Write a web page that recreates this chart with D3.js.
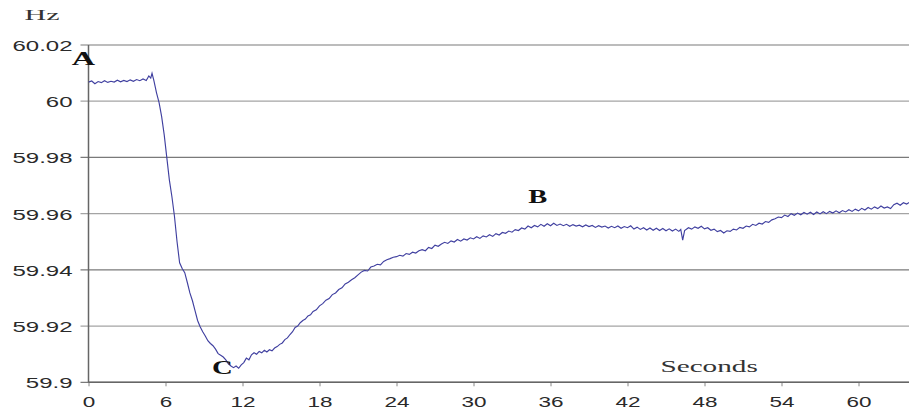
<!DOCTYPE html>
<html>
<head>
<meta charset="utf-8">
<script src="https://cdn.jsdelivr.net/npm/d3@7"></script>
<style>
  body { margin: 0; background: #fff; }
  svg { display: block; }
</style>
</head>
<body>
<svg id="chart"></svg>
<script>
(function () {
  'use strict';

  // Frequency trace [seconds, Hz]
  const trace = [
    [0, 60.0068], [0.25, 60.0072], [0.5, 60.0062], [0.75, 60.0070], [1, 60.0066], [1.25, 60.0073],
    [1.5, 60.0067], [1.75, 60.0071], [2, 60.0068], [2.25, 60.0075], [2.5, 60.0069], [2.75, 60.0074],
    [3, 60.0070], [3.25, 60.0076], [3.5, 60.0071], [3.75, 60.0077], [4, 60.0073], [4.25, 60.0079],
    [4.5, 60.0074], [4.7, 60.0090], [4.85, 60.0082], [4.95, 60.0099], [5.1, 60.0072], [5.3, 60.0030],
    [5.5, 59.9995], [5.7, 59.9945], [5.9, 59.9880], [6.1, 59.9800], [6.3, 59.9720], [6.5, 59.9660],
    [6.7, 59.9590], [6.9, 59.9500], [7.1, 59.9425], [7.3, 59.9405], [7.5, 59.9390], [7.7, 59.9355],
    [7.9, 59.9318], [8.1, 59.9290], [8.3, 59.9255], [8.5, 59.9220], [8.7, 59.9198], [8.9, 59.9180],
    [9.1, 59.9165], [9.3, 59.9148], [9.5, 59.9138], [9.7, 59.9130], [9.9, 59.9118], [10.1, 59.9102],
    [10.3, 59.9096], [10.5, 59.9090], [10.7, 59.9080], [10.9, 59.9066], [11.1, 59.9058], [11.3, 59.9052],
    [11.5, 59.9058], [11.7, 59.9050], [11.9, 59.9062], [12.1, 59.9070], [12.3, 59.9086], [12.5, 59.9080],
    [12.7, 59.9098], [12.9, 59.9105], [13.1, 59.9100], [13.3, 59.9110], [13.5, 59.9105], [13.7, 59.9114],
    [13.9, 59.9108], [14.1, 59.9116], [14.3, 59.9112], [14.5, 59.9122], [14.7, 59.9127], [14.9, 59.9135],
    [15.1, 59.9140], [15.3, 59.9152], [15.5, 59.9158], [15.7, 59.9170], [15.9, 59.9180], [16.1, 59.9195],
    [16.3, 59.9200], [16.5, 59.9212], [16.7, 59.9220], [16.9, 59.9225], [17.1, 59.9236], [17.3, 59.9240],
    [17.5, 59.9252], [17.75, 59.9258], [18, 59.9272], [18.25, 59.9280], [18.5, 59.9292], [18.75, 59.9298],
    [19, 59.9312], [19.25, 59.9318], [19.5, 59.9330], [19.75, 59.9336], [20, 59.9350], [20.25, 59.9356],
    [20.5, 59.9365], [20.75, 59.9372], [21, 59.9382], [21.25, 59.9392], [21.5, 59.9398], [21.75, 59.9396],
    [22, 59.9410], [22.25, 59.9414], [22.5, 59.9420], [22.75, 59.9418], [23, 59.9430], [23.25, 59.9436],
    [23.5, 59.9440], [23.75, 59.9445], [24, 59.9447], [24.25, 59.9452], [24.5, 59.9449], [24.75, 59.9458],
    [25, 59.9455], [25.25, 59.9463], [25.5, 59.9460], [25.75, 59.9468], [26, 59.9472], [26.25, 59.9468],
    [26.5, 59.9480], [26.75, 59.9476], [27, 59.9488], [27.25, 59.9484], [27.5, 59.9492], [27.75, 59.9498],
    [28, 59.9494], [28.25, 59.9503], [28.5, 59.9499], [28.75, 59.9508], [29, 59.9502], [29.25, 59.9510],
    [29.5, 59.9506], [29.75, 59.9514], [30, 59.9510], [30.25, 59.9518], [30.5, 59.9512], [30.75, 59.9521],
    [31, 59.9517], [31.25, 59.9525], [31.5, 59.9519], [31.75, 59.9529], [32, 59.9524], [32.25, 59.9533],
    [32.5, 59.9530], [32.75, 59.9538], [33, 59.9534], [33.25, 59.9543], [33.5, 59.9540], [33.75, 59.9549],
    [34, 59.9545], [34.25, 59.9556], [34.5, 59.9550], [34.75, 59.9558], [35, 59.9553], [35.25, 59.9562],
    [35.5, 59.9555], [35.75, 59.9564], [36, 59.9557], [36.25, 59.9566], [36.5, 59.9558], [36.75, 59.9563],
    [37, 59.9557], [37.25, 59.9562], [37.5, 59.9555], [37.75, 59.9561], [38, 59.9556], [38.25, 59.9559],
    [38.5, 59.9553], [38.75, 59.9560], [39, 59.9554], [39.25, 59.9558], [39.5, 59.9551], [39.75, 59.9557],
    [40, 59.9552], [40.25, 59.9556], [40.5, 59.9549], [40.75, 59.9555], [41, 59.9550], [41.25, 59.9556],
    [41.5, 59.9548], [41.75, 59.9554], [42, 59.9550], [42.25, 59.9557], [42.5, 59.9545], [42.75, 59.9552],
    [43, 59.9544], [43.25, 59.9550], [43.5, 59.9542], [43.75, 59.9549], [44, 59.9541], [44.25, 59.9548],
    [44.5, 59.9540], [44.75, 59.9547], [45, 59.9539], [45.25, 59.9546], [45.5, 59.9538], [45.75, 59.9545],
    [46, 59.9537], [46.15, 59.9544], [46.3, 59.9506], [46.45, 59.9540], [46.75, 59.9550], [47, 59.9545],
    [47.25, 59.9553], [47.5, 59.9548], [47.75, 59.9555], [48, 59.9546], [48.25, 59.9550], [48.5, 59.9541],
    [48.75, 59.9545], [49, 59.9536], [49.25, 59.9540], [49.5, 59.9531], [49.75, 59.9539], [50, 59.9537],
    [50.25, 59.9545], [50.5, 59.9542], [50.75, 59.9551], [51, 59.9548], [51.25, 59.9556], [51.5, 59.9553],
    [51.75, 59.9562], [52, 59.9558], [52.25, 59.9566], [52.5, 59.9563], [52.75, 59.9572], [53, 59.9569],
    [53.25, 59.9578], [53.5, 59.9582], [53.75, 59.9588], [54, 59.9586], [54.25, 59.9595], [54.5, 59.9590],
    [54.75, 59.9600], [55, 59.9594], [55.25, 59.9602], [55.5, 59.9596], [55.75, 59.9604], [56, 59.9598],
    [56.25, 59.9605], [56.5, 59.9597], [56.75, 59.9606], [57, 59.9599], [57.25, 59.9607], [57.5, 59.9600],
    [57.75, 59.9608], [58, 59.9602], [58.25, 59.9610], [58.5, 59.9603], [58.75, 59.9611], [59, 59.9606],
    [59.25, 59.9614], [59.5, 59.9608], [59.75, 59.9616], [60, 59.9610], [60.25, 59.9619], [60.5, 59.9613],
    [60.75, 59.9622], [61, 59.9616], [61.25, 59.9624], [61.5, 59.9618], [61.75, 59.9627], [62, 59.9620],
    [62.25, 59.9624], [62.5, 59.9618], [62.75, 59.9632], [63, 59.9637], [63.25, 59.9630], [63.5, 59.9639],
    [63.75, 59.9634], [64, 59.9641]
  ];

  const yTicks = [59.9, 59.92, 59.94, 59.96, 59.98, 60, 60.02];
  const yTickLabels = ["59.9", "59.92", "59.94", "59.96", "59.98", "60", "60.02"];
  const xTicks = [0, 6, 12, 18, 24, 30, 36, 42, 48, 54, 60];

  const W = 909, H = 414;
  const left = 88.5, top = 45, bottom = 382.3, right = 909;

  const svg = d3.select("#chart").attr("width", W).attr("height", H);

  const x = d3.scaleLinear().domain([0, 60]).range([left, 858.5]);
  const y = d3.scaleLinear().domain([59.9, 60.02]).range([bottom, top]);

  // gridlines
  svg.append("g")
    .selectAll("line")
    .data(yTicks)
    .join("line")
    .attr("x1", left - 8)
    .attr("x2", right)
    .attr("y1", d => y(d))
    .attr("y2", d => y(d))
    .attr("stroke", (d, i) => (i % 2 === 0 ? "#7a7a7a" : "#a4a4a4"))
    .attr("stroke-width", 1.2);

  // y axis labels
  const yAxis = svg.append("g")
    .attr("transform", `translate(${left},0)`)
    .call(d3.axisLeft(y).tickValues(yTicks).tickFormat((d, i) => yTickLabels[i]).tickSize(0));
  yAxis.select(".domain").remove();
  yAxis.selectAll("text")
    .attr("x", null)
    .attr("dy", null)
    .attr("transform", "translate(-16,5.5) scale(1.6,1)")
    .attr("fill", "#2a2a2a")
    .style("font-family", "'Liberation Sans', Arial, sans-serif")
    .style("font-size", "15px");

  // x axis
  const xAxis = svg.append("g")
    .attr("transform", `translate(0,${bottom})`)
    .call(d3.axisBottom(x).tickValues(xTicks).tickSize(4).tickFormat(d3.format("d")));
  xAxis.select(".domain").remove();
  xAxis.selectAll(".tick line").attr("stroke", "#888");
  xAxis.selectAll("text")
    .attr("y", null)
    .attr("dy", null)
    .attr("transform", "translate(0,25) scale(1.5,1)")
    .attr("fill", "#2a2a2a")
    .style("font-family", "'Liberation Sans', Arial, sans-serif")
    .style("font-size", "15px");

  // axis lines
  svg.append("line")
    .attr("x1", left).attr("x2", left)
    .attr("y1", top).attr("y2", bottom)
    .attr("stroke", "#666").attr("stroke-width", 1.5);
  svg.append("line")
    .attr("x1", left).attr("x2", right)
    .attr("y1", bottom).attr("y2", bottom)
    .attr("stroke", "#666").attr("stroke-width", 1.5);

  // trace
  svg.append("clipPath").attr("id", "plot")
    .append("rect")
    .attr("x", left).attr("y", 0)
    .attr("width", right - left).attr("height", H);

  svg.append("path")
    .datum(trace)
    .attr("clip-path", "url(#plot)")
    .attr("fill", "none")
    .attr("stroke", "#4040a0")
    .attr("stroke-width", 1.15)
    .attr("d", d3.line()
      .x(d => x(d[0]))
      .y(d => y(d[1]))
    );

  // text labels
  const serif = "'Liberation Serif', 'Times New Roman', serif";
  function label(text, px, py, size, sx, bold) {
    svg.append("text")
      .attr("transform", `translate(${px},${py}) scale(${sx},1)`)
      .attr("text-anchor", "middle")
      .attr("fill", bold ? "#111" : "#333")
      .style("font-family", serif)
      .style("font-size", size + "px")
      .style("font-weight", bold ? "bold" : "normal")
      .text(text);
  }

  label("Hz", 42, 20, 15, 2.0, false);
  label("A", x(-0.39), y(60.0129), 19, 1.7, true);
  label("B", x(35.0), y(59.9638), 19, 1.5, true);
  label("C", x(10.44), y(59.903), 18, 1.6, true);
  label("Seconds", x(48.36), y(59.9038), 17, 1.72, false);
})();
</script>
</body>
</html>
